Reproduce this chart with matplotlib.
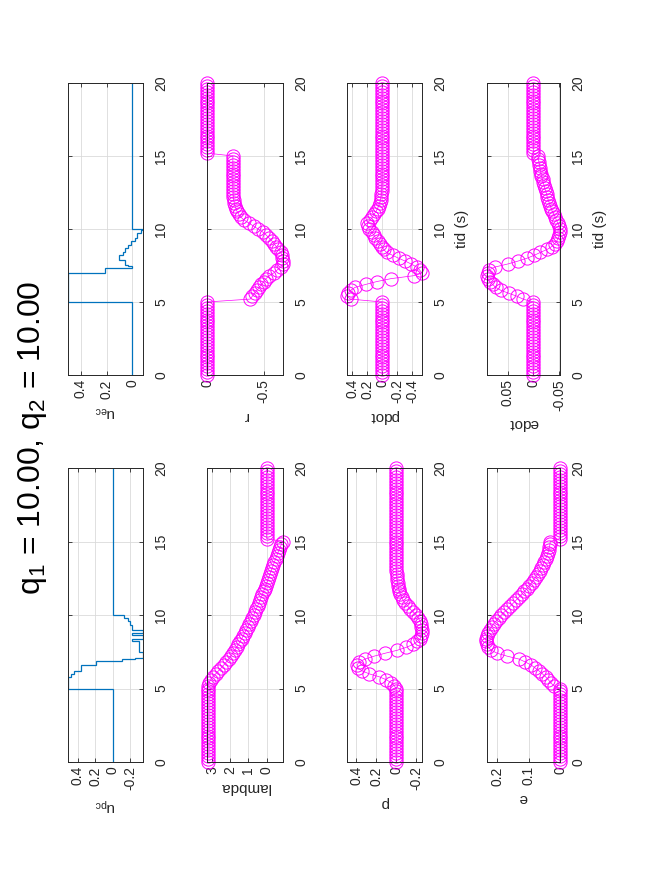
import numpy as np
import matplotlib.pyplot as plt
from matplotlib.ticker import FuncFormatter

plt.rcParams['font.family'] = ['Liberation Sans', 'DejaVu Sans']
plt.rcParams['mathtext.fontset'] = 'custom'
plt.rcParams['mathtext.rm'] = 'Liberation Sans'
plt.rcParams['mathtext.it'] = 'Liberation Sans:italic'
plt.rcParams['mathtext.default'] = 'regular'
plt.rcParams['axes.unicode_minus'] = False

# sample times (s): 0 .. 20 every 0.2 s
t = np.round(np.arange(0, 20.001, 0.2), 1)

# values read at t = 5.2, 5.4, ..., 15.0 (50 samples); zeros / constants elsewhere
lam_mid = [3.22, 3.17, 3.08, 2.95, 2.80,
           2.65, 2.50, 2.36, 2.22, 2.09,
           1.97, 1.86, 1.75, 1.65, 1.55,
           1.46, 1.37, 1.28, 1.20, 1.11,
           1.03, 0.95, 0.87, 0.79, 0.71,
           0.64, 0.57, 0.50, 0.43, 0.36,
           0.29, 0.23, 0.17, 0.11, 0.05,
           -0.01, -0.07, -0.13, -0.19, -0.25,
           -0.31, -0.37, -0.43, -0.49, -0.55,
           -0.61, -0.67, -0.74, -0.81, -0.89]
r_mid = [-0.38, -0.40, -0.42, -0.44, -0.46,
         -0.48, -0.50, -0.52, -0.55, -0.59,
         -0.62, -0.65, -0.67, -0.67, -0.665,
         -0.66, -0.65, -0.63, -0.61, -0.59,
         -0.57, -0.545, -0.52, -0.49, -0.45,
         -0.41, -0.37, -0.33, -0.30, -0.28,
         -0.265, -0.255, -0.245, -0.24, -0.235,
         -0.232, -0.23, -0.23, -0.228, -0.228,
         -0.228, -0.228, -0.228, -0.228, -0.228,
         -0.228, -0.228, -0.228, -0.228, -0.228]
p_mid = [0.02, 0.05, 0.10, 0.17, 0.27,
         0.34, 0.38, 0.39, 0.37, 0.31,
         0.22, 0.11, -0.01, -0.10, -0.17,
         -0.21, -0.24, -0.25, -0.255, -0.255,
         -0.25, -0.245, -0.235, -0.22, -0.20,
         -0.17, -0.14, -0.115, -0.09, -0.07,
         -0.055, -0.042, -0.032, -0.024, -0.018,
         -0.013, -0.009, -0.006, -0.004, -0.002,
         0.0, 0.0, 0.0, 0.0, 0.0,
         0.0, 0.0, 0.0, 0.0, 0.0]
pdot_mid = [0.42, 0.47, 0.46, 0.42, 0.36,
            0.22, 0.07, -0.12, -0.42, -0.53,
            -0.50, -0.46, -0.39, -0.31, -0.22,
            -0.14, -0.06, -0.02, 0.0, 0.03,
            0.06, 0.09, 0.11, 0.14, 0.17,
            0.19, 0.20, 0.16, 0.13, 0.11,
            0.08, 0.06, 0.045, 0.03, 0.02,
            0.013, 0.008, 0.005, 0.003, 0.002,
            0.0, 0.0, 0.0, 0.0, 0.0,
            0.0, 0.0, 0.0, 0.0, 0.0]
e_mid = [0.020, 0.030, 0.037, 0.046, 0.056,
         0.067, 0.079, 0.092, 0.110, 0.130,
         0.168, 0.200, 0.218, 0.228, 0.233,
         0.235, 0.235, 0.232, 0.228, 0.223,
         0.217, 0.211, 0.203, 0.195, 0.186,
         0.177, 0.167, 0.158, 0.149, 0.140,
         0.131, 0.122, 0.113, 0.105, 0.097,
         0.090, 0.083, 0.076, 0.070, 0.064,
         0.059, 0.054, 0.050, 0.046, 0.042,
         0.039, 0.036, 0.034, 0.032, 0.031]
edot_mid = [0.020, 0.032, 0.048, 0.063, 0.073,
            0.079, 0.085, 0.088, 0.090, 0.089,
            0.086, 0.074, 0.050, 0.030, 0.012,
            -0.002, -0.014, -0.027, -0.036, -0.042,
            -0.046, -0.049, -0.051, -0.052, -0.052,
            -0.050, -0.048, -0.045, -0.043, -0.040,
            -0.037, -0.035, -0.033, -0.031, -0.029,
            -0.027, -0.026, -0.024, -0.022, -0.021,
            -0.019, -0.018, -0.016, -0.015, -0.014,
            -0.013, -0.012, -0.011, -0.010, -0.009]

lam = np.array([3.24] * 26 + lam_mid + [0.0] * 25)
r = np.array([0.0] * 26 + r_mid + [0.0] * 25)
p = np.array([0.0] * 26 + p_mid + [0.0] * 25)
pdot = np.array([0.0] * 26 + pdot_mid + [0.0] * 25)
e = np.array([0.0] * 26 + e_mid + [0.0] * 25)
edot = np.array([0.0] * 26 + edot_mid + [0.0] * 25)

# control inputs (piecewise constant)
upc_edges = [0, 5.0, 5.8, 6.0, 6.2, 6.6, 6.9, 7.0, 7.1, 7.5, 8.25, 8.4, 8.65, 8.8, 9.0, 9.3, 9.6, 9.8, 10.0, 20]
upc_vals = [0, 0.51, 0.48, 0.45, 0.36, 0.19, -0.1, -0.25, -0.34, -0.3, -0.22, -0.34, -0.22, -0.34, -0.22, -0.2, -0.17, -0.13, 0]
uec_edges = [0, 5.0, 7.0, 7.3, 7.45, 7.55, 7.9, 8.25, 8.45, 8.7, 8.9, 9.15, 9.4, 9.7, 9.9, 10.0, 20]
uec_vals = [0, 0.5, 0.21, 0.0, 0.03, 0.06, 0.1, 0.07, 0.06, 0.03, 0.01, -0.02, -0.04, -0.07, -0.083, 0]

W, H = 656, 875
fig = plt.figure(figsize=(W / 100, H / 100), dpi=100)

col_x = [(68, 143), (207, 283), (347, 422), (487, 560)]
low_y = (468, 762)   # u_pc, lambda, p, e
up_y = (83, 375)     # u_ec, r, pdot, edot

fmt = FuncFormatter(lambda v, pos: '%g' % round(v, 6) if abs(v) > 1e-9 else '0')


def make_ax(xs, ys, lims, ticks, label, tlabel=False):
    ax = fig.add_axes([xs[0] / W, 1 - ys[1] / H, (xs[1] - xs[0]) / W, (ys[1] - ys[0]) / H])
    ax.set_ylim(0, 20)
    ax.set_yticks([0, 5, 10, 15, 20])
    ax.set_xlim(lims)
    ax.set_xticks(ticks)
    ax.xaxis.set_major_formatter(fmt)
    ax.grid(True, color='#dadada', lw=0.6)
    ax.set_axisbelow(True)
    ax.tick_params(direction='in', length=3, width=0.6, top=True, bottom=True,
                   left=True, right=True, labelsize=10, labelleft=False,
                   labelright=True, labelbottom=True, labeltop=False, colors='#262626')
    ax.tick_params(axis='x', labelrotation=90, pad=3)
    ax.tick_params(axis='y', labelrotation=90, pad=8)
    for lab in ax.get_yticklabels():
        lab.set_va('center')
    for s in ax.spines.values():
        s.set_linewidth(0.7)
        s.set_color('#262626')
    ax.set_xlabel(label, rotation=180, fontsize=11, color='#262626', labelpad=4)
    if tlabel:
        ax.yaxis.set_label_position('right')
        ax.set_ylabel('tid (s)', rotation=90, fontsize=11, color='#262626', labelpad=6)
    return ax


def circles(ax, vals):
    ax.plot(vals, t, color='#ff00ff', lw=0.5, marker='o', mfc='none', ms=9.5,
            mew=0.7, clip_on=False)


ax = make_ax(col_x[0], low_y, (0.514, -0.343), [-0.2, 0, 0.2, 0.4], 'u$_{pc}$')
ax.stairs(upc_vals, upc_edges, orientation='horizontal', baseline=None, color='#0072bd', lw=0.9)

ax = make_ax(col_x[1], low_y, (3.28, -0.9), [0, 1, 2, 3], 'lambda')
circles(ax, lam)

ax = make_ax(col_x[2], low_y, (0.49, -0.257), [-0.2, 0, 0.2, 0.4], 'p')
circles(ax, p)

ax = make_ax(col_x[3], low_y, (0.232, 0), [0, 0.1, 0.2], 'e')
circles(ax, e)

ax = make_ax(col_x[0], up_y, (0.5, -0.083), [0, 0.2, 0.4], 'u$_{ec}$')
ax.stairs(uec_vals, uec_edges, orientation='horizontal', baseline=None, color='#0072bd', lw=0.9)

ax = make_ax(col_x[1], up_y, (0, -0.67), [-0.5, 0], 'r')
circles(ax, r)

ax = make_ax(col_x[2], up_y, (0.467, -0.533), [-0.4, -0.2, 0, 0.2, 0.4], 'pdot', tlabel=True)
circles(ax, pdot)

ax = make_ax(col_x[3], up_y, (0.09, -0.052), [-0.05, 0, 0.05], 'edot', tlabel=True)
circles(ax, edot)

fig.text(33 / W, 1 - 438 / H, 'q$_1$ = 10.00, q$_2$ = 10.00', rotation=90,
         ha='center', va='center', fontsize=23)

fig.savefig('out.png', dpi=100)
